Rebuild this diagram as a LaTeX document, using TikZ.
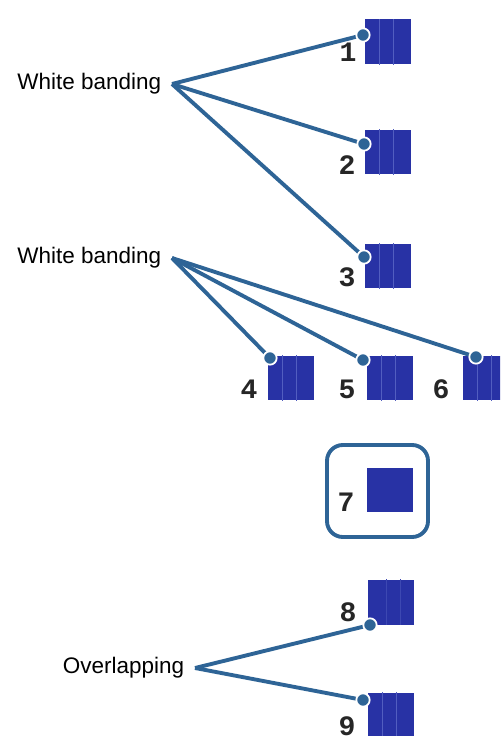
\documentclass[tikz,border=0pt]{standalone}
\usepackage{fontspec}
\setmainfont{Liberation Sans}
\newfontfamily\digitfont{Liberation Mono}
\usetikzlibrary{calc}
\definecolor{linkblue}{RGB}{46,100,150}
\definecolor{blockblue}{RGB}{40,50,165}
\definecolor{stripeblue}{RGB}{82,94,192}

\begin{document}
\begin{tikzpicture}[x=0.02cm, y=-0.02cm,
    block/.style={fill=blockblue, minimum width=0.92cm, minimum height=0.9cm, inner sep=0pt},
    stripe/.style={stripeblue, line width=0.8pt},
    num/.style={font=\digitfont\bfseries\fontsize{16}{16}\selectfont, text=black!85, inner sep=0pt},
    lab/.style={font=\fontsize{12.8}{14}\selectfont, anchor=east, inner xsep=6pt},
    link/.style={linkblue, line width=2.2pt},
    dot/.style={fill=linkblue, draw=white, line width=1pt}]

    % Cornice
    \useasboundingbox (0,0) rectangle (500,736);
    \clip (0,0) rectangle (500,736);
    \fill[white] (0,0) rectangle (500,736);

    % Blocchi
    \node[block] (b1) at (388,42) {};
    \node[block] (b2) at (388,152) {};
    \node[block] (b3) at (388,266) {};
    \node[block] (b4) at (291,378) {};
    \node[block] (b5) at (390,378) {};
    \node[block] (b6) at (486,378) {};
    \node[block] (b7) at (390,490) {};
    \node[block] (b8) at (391,602) {};
    \node[block] (b9) at (391,715) {};

    % Strisce chiare
    \foreach \b in {b1,b2,b3,b4,b5,b6,b9} {
        \draw[stripe] ($(\b.north west)!0.32!(\b.north east)$) -- ($(\b.south west)!0.32!(\b.south east)$);
        \draw[stripe] ($(\b.north west)!0.62!(\b.north east)$) -- ($(\b.south west)!0.62!(\b.south east)$);
    }
    \foreach \b in {b8} {
        \draw[stripe, stripeblue!50!blockblue] ($(\b.north west)!0.4!(\b.north east)$) -- ($(\b.south west)!0.4!(\b.south east)$);
        \draw[stripe, stripeblue!50!blockblue] ($(\b.north west)!0.7!(\b.north east)$) -- ($(\b.south west)!0.7!(\b.south east)$);
    }

    % Numeri
    \node[num] (n1) at (348,52) {1};
    \node[num] (n2) at (347,165) {2};
    \node[num] (n3) at (347,277) {3};
    \node[num] (n4) at (249,389) {4};
    \node[num] (n5) at (347,389) {5};
    \node[num] (n6) at (441,389) {6};
    \node[num] (n7) at (346,502) {7};
    \node[num] (n8) at (348,612) {8};
    \node[num] (n9) at (347,726) {9};

    % Riquadro del 7
    \draw[link, rounded corners=9pt] (327,445) rectangle (428,537);

    % Etichette
    \node[lab] (wb1) at (172,84) {White banding};
    \node[lab] (wb2) at (172,258) {White banding};
    \node[lab] (ov) at (195,668) {Overlapping};

    % Punti di attacco
    \coordinate (d1) at (363,35);
    \coordinate (d2) at (364,144);
    \coordinate (d3) at (364,257);
    \coordinate (d4) at (270,358);
    \coordinate (d5) at (363,360);
    \coordinate (d6) at (476,357);
    \coordinate (d8) at (370,625);
    \coordinate (d9) at (363,700);

    % Collegamenti
    \foreach \d in {d1,d2,d3} \draw[link] (wb1.east) -- (\d);
    \foreach \d in {d4,d5,d6} \draw[link] (wb2.east) -- (\d);
    \foreach \d in {d8,d9} \draw[link] (ov.east) -- (\d);
    \foreach \d in {d1,d2,d3,d4,d5,d6,d8,d9} \draw[dot] (\d) circle (3.8pt);

\end{tikzpicture}
\end{document}
